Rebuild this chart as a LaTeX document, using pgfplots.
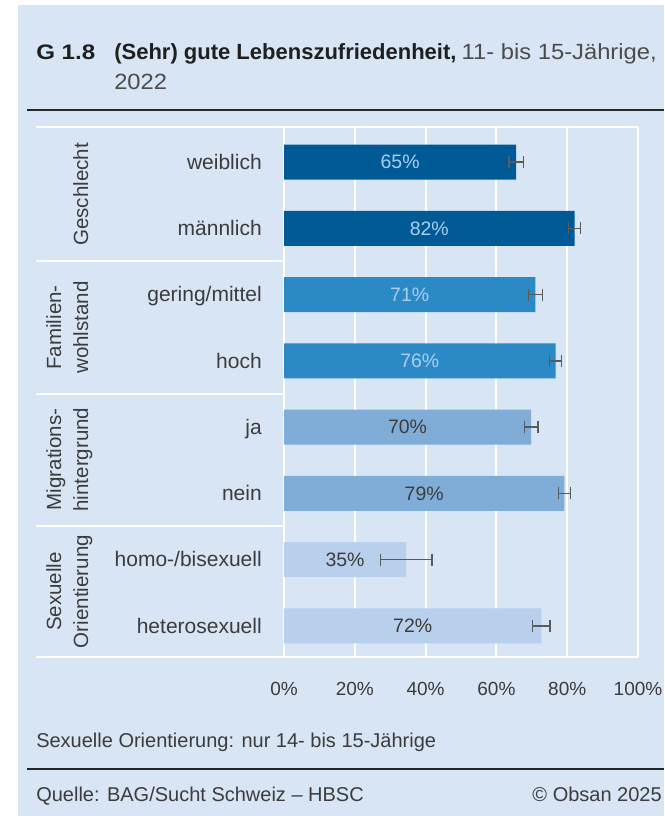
\documentclass[border=0pt]{standalone}
\usepackage{fontspec}
\setmainfont{Liberation Sans}
\newfontfamily\widefont{Liberation Sans}[FakeStretch=1.08]
\newfontfamily\widerfont{Liberation Sans}[FakeStretch=1.15]
\usepackage{pgfplots}
\usepackage{pgfplotstable}
\pgfplotsset{compat=1.18}

\definecolor{bg}{HTML}{D8E5F4}
\definecolor{cA}{HTML}{005A96}
\definecolor{cB}{HTML}{2B8AC6}
\definecolor{cC}{HTML}{80ADD8}
\definecolor{cD}{HTML}{B9D0EC}
\definecolor{txt}{HTML}{3C3C3C}
\definecolor{errc}{HTML}{5A5A5A}
\definecolor{lbl}{HTML}{A9CEF0}

% y = row, v = share in %, e = half width of the confidence interval, lab = printed value
\pgfplotstableread{
y v e lab
0 65.6 2.0 65
1 82.1 1.7 82
2 71.0 2.0 71
3 76.7 1.7 76
4 69.8 1.9 70
5 79.2 1.7 79
6 34.5 7.3 35
7 72.7 2.5 72
}\lzdata

\newcommand{\fs}[1]{\fontsize{#1}{1.2\dimexpr#1pt\relax}\selectfont}

\pgfplotsset{
  barstyle/.style={xbar, bar width=26.25pt, bar shift=0pt, draw=none,
    error bars/x dir=both, error bars/x explicit,
    error bars/error mark=|,
    error bars/error bar style={errc, line width=1.1pt},
    error bars/error mark options={errc, mark size=4.5pt, line width=1.1pt}},
}

\begin{document}
\begin{tikzpicture}[x=0.75pt,y=-0.75pt]
\useasboundingbox (0,0) rectangle (664,816);
\fill[white] (0,0) rectangle (664,816);
\fill[bg] (18,5) rectangle (664,816);
\draw[black!85, line width=1.5pt] (27,110) -- (664,110);
\draw[black!85, line width=1.2pt] (27,769) -- (664,769);

\node[anchor=base west, inner sep=0, font=\fs{15.75}\widerfont\bfseries, text=black!88] at (36,59.3) {G 1.8};
\node[anchor=base west, inner sep=0, font=\fs{16.5}\bfseries, text=black!88] at (114,59.3)
  {(Sehr) gute Lebenszufriedenheit,};
\node[anchor=base east, inner sep=0, font=\fs{16.5}\widefont, text=black!70] at (657,59.3)
  {11- bis 15-Jährige,};
\node[anchor=base west, inner sep=0, font=\fs{16.5}\widefont, text=black!70] at (114,90) {2022};

\begin{axis}[
  at={(213pt,-492.75pt)}, anchor=south west, scale only axis,
  width=265.5pt, height=397.5pt,
  xmin=0, xmax=100, ymin=-0.53, ymax=7.47, y dir=reverse,
  axis line style={draw=none}, tick style={draw=none},
  major tick length=0pt,
  xtick={0,20,...,100},
  /pgf/number format/assume math mode=true,
  xticklabel={\pgfmathprintnumber{\tick}\%},
  xticklabel style={anchor=base, yshift=-28.5pt, inner sep=0, font=\fs{14.25}, text=txt},
  ytick={0,...,7},
  yticklabels={weiblich,männlich,gering/mittel,hoch,ja,nein,homo-/bisexuell,heterosexuell},
  yticklabel style={anchor=base east, xshift=-16.5pt, yshift=-5.5pt, inner sep=0, font=\fs{15.75}, text=txt},
  xmajorgrids, grid style={white, line width=1.5pt},
  clip=false,
]
\addplot[barstyle, fill=cA] table[x=v, y=y, x error=e, skip coords between index={2}{8}] {\lzdata};
\addplot[barstyle, fill=cB] table[x=v, y=y, x error=e, skip coords between index={0}{2}, skip coords between index={4}{8}] {\lzdata};
\addplot[barstyle, fill=cC] table[x=v, y=y, x error=e, skip coords between index={0}{4}, skip coords between index={6}{8}] {\lzdata};
\addplot[barstyle, fill=cD] table[x=v, y=y, x error=e, skip coords between index={0}{6}] {\lzdata};

\addplot[only marks, mark=none, point meta=explicit symbolic,
  nodes near coords={\pgfplotspointmeta\%},
  nodes near coords style={anchor=center, inner sep=0, text=lbl, font=\fs{14.6}},
  skip coords between index={4}{8}]
  table[x expr=\thisrow{v}/2, y=y, meta=lab] {\lzdata};
\addplot[only marks, mark=none, point meta=explicit symbolic,
  nodes near coords={\pgfplotspointmeta\%},
  nodes near coords style={anchor=center, inner sep=0, text=txt, font=\fs{14.6}},
  skip coords between index={0}{4}]
  table[x expr=\thisrow{v}/2, y=y, meta=lab] {\lzdata};

\draw[white, line width=1.5pt] (axis cs:-70,-0.53) -- (axis cs:100,-0.53);
\draw[white, line width=1.5pt] (axis cs:-70,7.47) -- (axis cs:100,7.47);
\draw[white, line width=1.5pt] (axis cs:-70,1.5) -- (axis cs:0,1.5);
\draw[white, line width=1.5pt] (axis cs:-70,3.5) -- (axis cs:0,3.5);
\draw[white, line width=1.5pt] (axis cs:-70,5.5) -- (axis cs:0,5.5);
\end{axis}

\begin{scope}[every node/.style={rotate=90, anchor=base, inner sep=0, font=\fs{15.4}, text=txt}]
\node at (88,194.5) {Geschlecht};
\node at (61,327.5) {Familien-};
\node at (88,327.5) {wohlstand};
\node at (61,459.5) {Migrations-};
\node at (88,459.5) {hintergrund};
\node at (61,591.5) {Sexuelle};
\node at (88,591.5) {Orientierung};
\end{scope}

\node[anchor=base west, inner sep=0, font=\fs{15}, text=txt] at (36,747) {Sexuelle Orientierung: nur 14- bis 15-Jährige};
\node[anchor=base west, inner sep=0, font=\fs{15}, text=txt] at (36,801.7) {Quelle: BAG/Sucht Schweiz – HBSC};
\node[anchor=base east, inner sep=0, font=\fs{15}, text=txt] at (662,801.7) {© Obsan 2025};
\end{tikzpicture}
\end{document}
